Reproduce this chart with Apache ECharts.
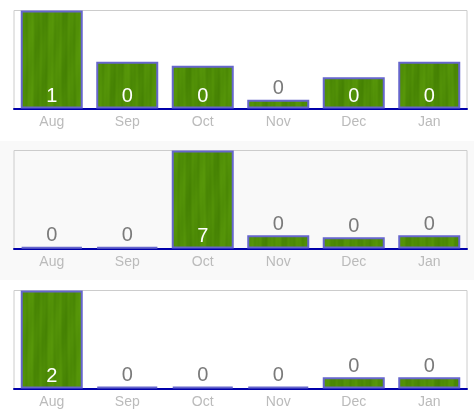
<!DOCTYPE html>
<html>
<head>
<meta charset="utf-8">
<style>
  html, body { margin: 0; padding: 0; background: #ffffff; }
  #chart { width: 474px; height: 412px; }
</style>
<script src="https://cdn.jsdelivr.net/npm/echarts@6/dist/echarts.min.js"></script>
</head>
<body>
<div id="chart"></div>
<script>
// Month categories shared by all three panels
const months = ['Aug', 'Sep', 'Oct', 'Nov', 'Dec', 'Jan'];

// Values for each panel (the label shows the whole-number part)
const panelA = [1.00, 0.477, 0.436, 0.089, 0.32, 0.477];
const panelB = [0.12, 0.12, 7.00, 0.95, 0.80, 0.95];
const panelC = [2.00, 0.04, 0.04, 0.04, 0.23, 0.23];

const panels = [panelA, panelB, panelC];

// Soft green grass-like texture used as the bar fill (tiles seamlessly)
function makeTexture() {
  const w = 124, h = 128;
  const c = document.createElement('canvas');
  c.width = w; c.height = h;
  const ctx = c.getContext('2d');
  const TAU = Math.PI * 2;
  for (let x = 0; x < w; x++) {
    for (let y = 0; y < h; y++) {
      const fy = y / h, fx = x / w;
      const wob = Math.sin(TAU * fy + fx * 9) * 0.003;
      const u = fx + wob;
      const s = Math.sin(TAU * 13 * u) * 0.3
              + Math.sin(TAU * 31 * u + 1.3) * 0.15
              + Math.sin(TAU * 5 * u + 0.7) * 0.3
              + Math.sin(TAU * 2 * fy + TAU * 7 * fx) * 0.2;
      const t = Math.max(0, Math.min(1, (s + 1) / 2));
      const r = Math.round(66 + t * 24);
      const g = Math.round(126 + t * 28);
      const b = Math.round(2 + t * 8);
      ctx.fillStyle = 'rgb(' + r + ',' + g + ',' + b + ')';
      ctx.fillRect(x, y, 1, 1);
    }
  }
  return c;
}
const texture = makeTexture();

const panelH = 140;
const gridTop = 10.5;
const gridH = 98;

const grids = [], xAxes = [], yAxes = [], series = [];

panels.forEach((vals, i) => {
  const max = Math.max.apply(null, vals);
  grids.push({
    left: 14, right: 7, top: i * panelH + gridTop, height: gridH,
    show: true, borderColor: '#cccccc', borderWidth: 1, backgroundColor: 'transparent'
  });
  xAxes.push({
    type: 'category', gridIndex: i, data: months,
    axisLine: { show: true, lineStyle: { color: '#0000aa', width: 2 } },
    axisTick: { show: false },
    axisLabel: { color: '#bbbbbb', fontSize: 14, fontFamily: 'Liberation Sans', margin: 7 },
    splitLine: { show: false }
  });
  yAxes.push({
    type: 'value', gridIndex: i, min: 0, max: max,
    show: false, splitLine: { show: false }
  });
  series.push({
    type: 'bar', xAxisIndex: i, yAxisIndex: i,
    barWidth: 62,
    itemStyle: {
      color: { image: texture, repeat: 'repeat' },
      borderColor: '#6666cc', borderWidth: 2
    },
    data: vals.map(v => {
      const inside = v / max > 0.2;
      return {
        value: v,
        label: {
          show: true,
          position: inside ? 'insideBottom' : 'top',
          distance: inside ? 2 : 1,
          color: inside ? '#ffffff' : '#7a7a7a',
          fontSize: 20,
          fontFamily: 'Liberation Sans',
          formatter: p => String(Math.floor(p.value))
        }
      };
    }),
    silent: true,
    animation: false
  });
});

const chart = echarts.init(document.getElementById('chart'), null, { renderer: 'canvas' });
chart.setOption({
  animation: false,
  backgroundColor: '#ffffff',
  graphic: [{
    type: 'rect', z: -10, silent: true,
    shape: { x: 0, y: 141, width: 474, height: 139 },
    style: { fill: '#f9f9f9' }
  }],
  grid: grids,
  xAxis: xAxes,
  yAxis: yAxes,
  series: series
});
</script>
</body>
</html>
